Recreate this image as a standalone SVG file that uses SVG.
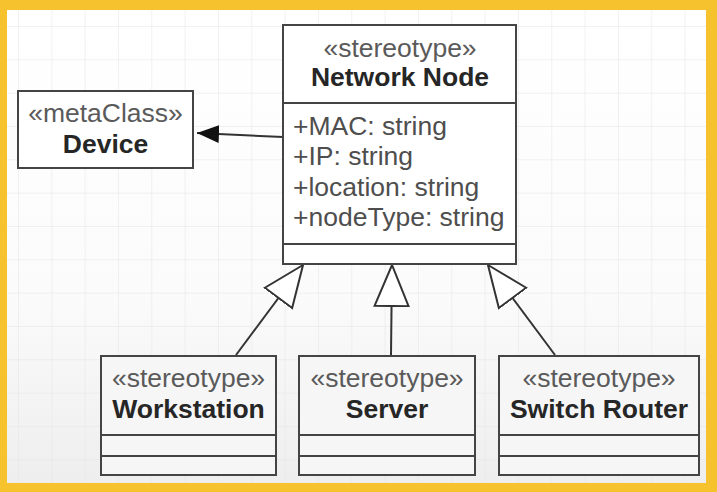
<svg xmlns="http://www.w3.org/2000/svg" width="717" height="492" viewBox="0 0 717 492">
  <defs>
    <pattern id="grid" x="18" y="26" width="33.33" height="33.33" patternUnits="userSpaceOnUse">
      <path d="M0 0 H33.33 M0 0 V33.33" fill="none" stroke="#e4e4e4" stroke-width="1"/>
    </pattern>
    <linearGradient id="shade" x1="0" y1="0" x2="0" y2="1">
      <stop offset="0" stop-color="#ffffff"/>
      <stop offset="0.6" stop-color="#fbfbfb"/>
      <stop offset="1" stop-color="#eeeeee"/>
    </linearGradient>
    <marker id="filled" markerUnits="userSpaceOnUse" markerWidth="22" markerHeight="18" viewBox="0 0 22 18" refX="22" refY="9" orient="auto">
      <path d="M0 0 L22 9 L0 18 Z" fill="#111"/>
    </marker>
    <marker id="hollow" markerUnits="userSpaceOnUse" markerWidth="44" markerHeight="38" viewBox="0 0 44 38" refX="42" refY="19" orient="auto">
      <path d="M1 2 L42 19 L1 36 Z" fill="#ffffff" stroke="#333" stroke-width="2" stroke-linejoin="miter"/>
    </marker>
    <style>
      .box { fill: #ffffff; stroke: #444; stroke-width: 2; }
      .boxb { fill: #f6f6f6; stroke: #444; stroke-width: 2; }
      .sep { stroke: #444; stroke-width: 2; }
      .st { font-family: "Liberation Sans", Arial, sans-serif; font-size: 26.5px; fill: #5a5a5a; text-anchor: middle; }
      .nm { font-family: "Liberation Sans", Arial, sans-serif; font-size: 26.5px; font-weight: bold; fill: #262626; text-anchor: middle; }
      .at { font-family: "Liberation Sans", Arial, sans-serif; font-size: 26.5px; fill: #4e4e4e; }
      .edge { fill: none; stroke: #333; stroke-width: 2; }
    </style>
  </defs>

  <rect x="0" y="0" width="717" height="492" fill="#F6C22E"/>
  <rect x="7" y="10" width="699" height="473" fill="url(#shade)"/>
  <rect x="7" y="10" width="699" height="473" fill="url(#grid)"/>

  <g id="connectors">
    <path class="edge" d="M283 137 L197 133" marker-end="url(#filled)"/>
    <path class="edge" d="M236 355 L303 265" marker-end="url(#hollow)"/>
    <path class="edge" d="M391 355 L392 265" marker-end="url(#hollow)"/>
    <path class="edge" d="M555 355 L488 265" marker-end="url(#hollow)"/>
  </g>

  <g id="device">
    <rect class="box" x="18" y="91" width="175" height="77"/>
    <text class="st" x="105.5" y="122">«metaClass»</text>
    <text class="nm" x="105.5" y="153">Device</text>
  </g>

  <g id="network-node">
    <rect class="box" x="283" y="25" width="233" height="239"/>
    <line class="sep" x1="283" y1="103" x2="516" y2="103"/>
    <line class="sep" x1="283" y1="244" x2="516" y2="244"/>
    <text class="st" x="400" y="57">«stereotype»</text>
    <text class="nm" x="400" y="86">Network Node</text>
    <text class="at" x="293" y="135">+MAC: string</text>
    <text class="at" x="293" y="165">+IP: string</text>
    <text class="at" x="293" y="196">+location: string</text>
    <text class="at" x="293" y="226">+nodeType: string</text>
  </g>

  <g id="workstation">
    <rect class="boxb" x="101" y="356" width="175" height="119"/>
    <line class="sep" x1="101" y1="435" x2="276" y2="435"/>
    <line class="sep" x1="101" y1="456" x2="276" y2="456"/>
    <text class="st" x="188.5" y="387">«stereotype»</text>
    <text class="nm" x="188.5" y="418">Workstation</text>
  </g>

  <g id="server">
    <rect class="boxb" x="299" y="356" width="176" height="119"/>
    <line class="sep" x1="299" y1="435" x2="475" y2="435"/>
    <line class="sep" x1="299" y1="456" x2="475" y2="456"/>
    <text class="st" x="387" y="387">«stereotype»</text>
    <text class="nm" x="387" y="418">Server</text>
  </g>

  <g id="switch-router">
    <rect class="boxb" x="499" y="356" width="200" height="119"/>
    <line class="sep" x1="499" y1="435" x2="699" y2="435"/>
    <line class="sep" x1="499" y1="456" x2="699" y2="456"/>
    <text class="st" x="599" y="387">«stereotype»</text>
    <text class="nm" x="599" y="418">Switch Router</text>
  </g>
</svg>
